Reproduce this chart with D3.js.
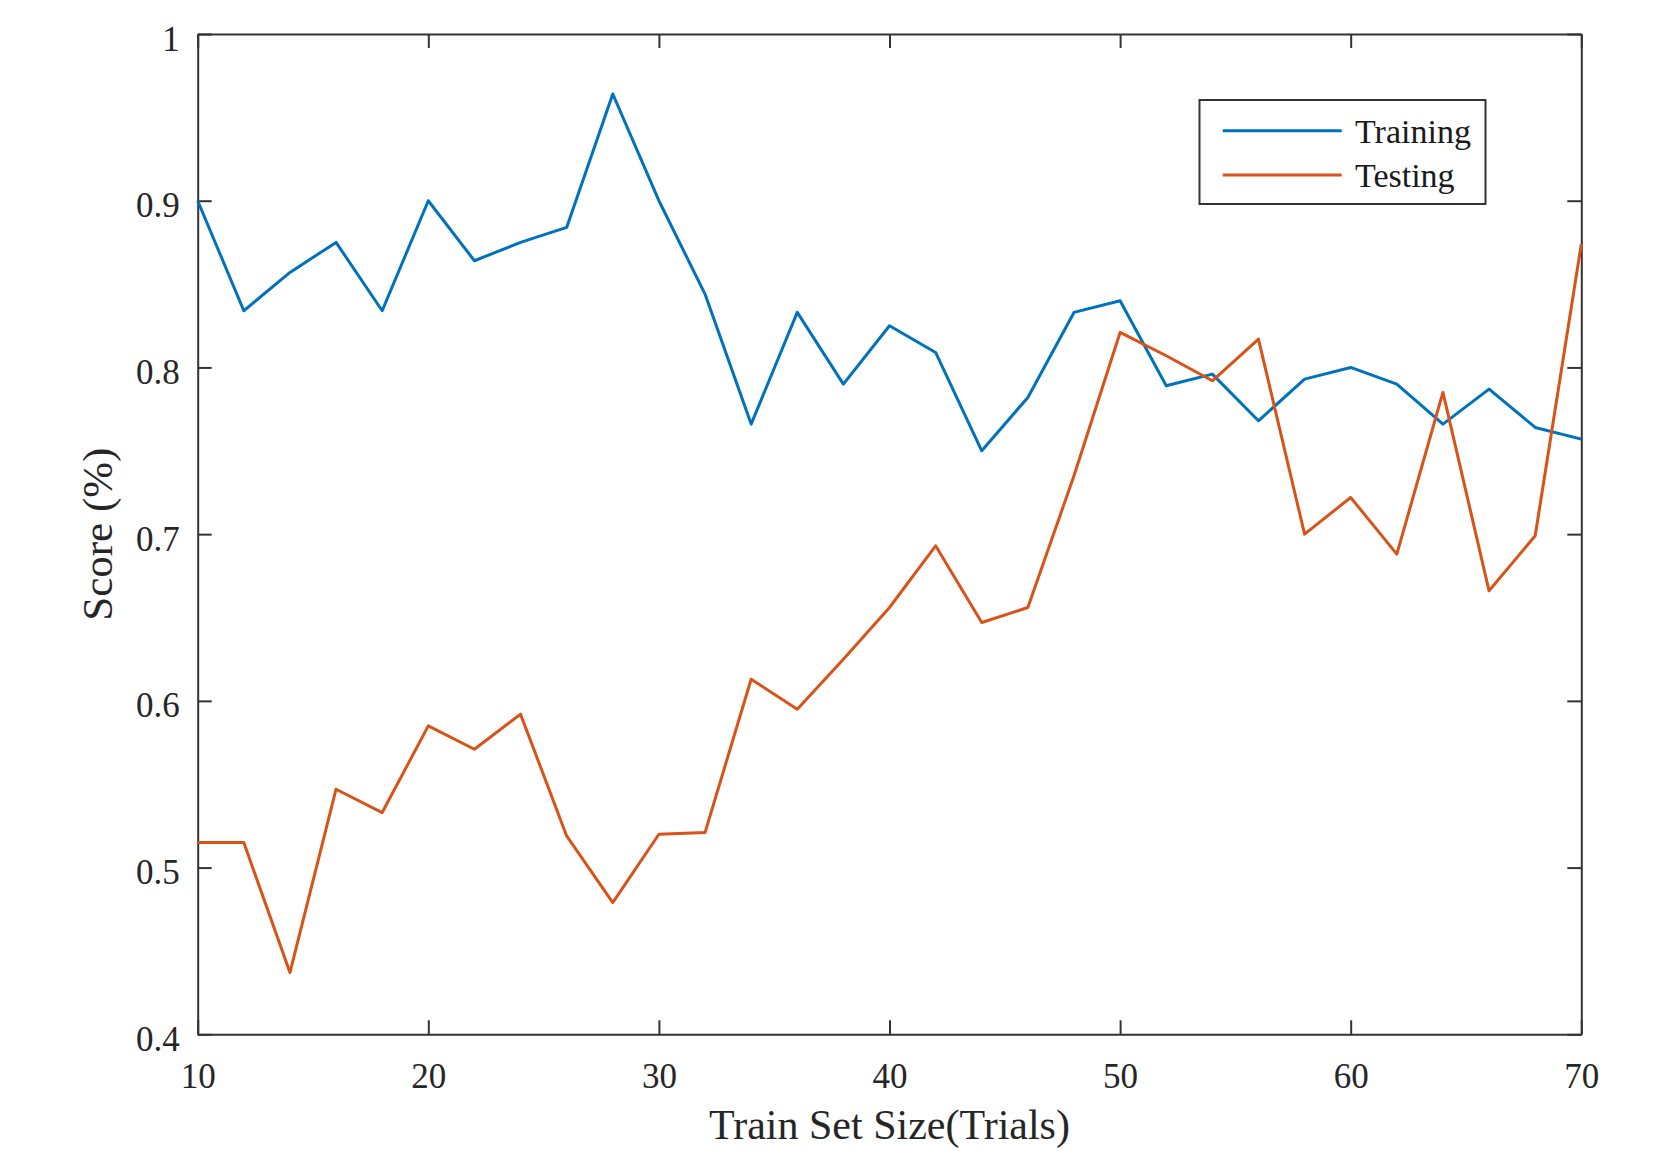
<!DOCTYPE html>
<html>
<head>
<meta charset="utf-8">
<script src="https://cdn.jsdelivr.net/npm/d3@7/dist/d3.min.js"></script>
<style>
  html, body { margin: 0; padding: 0; background: #fff; }
  svg { display: block; font-family: "Liberation Serif", "Times New Roman", serif; }
</style>
</head>
<body>
<svg id="chart" width="1655" height="1155"></svg>
<script>
// Learning-curve data: score vs. training-set size
const trainSizes = [10, 12, 14, 16, 18, 20, 22, 24, 26, 28, 30, 32, 34, 36, 38, 40,
                    42, 44, 46, 48, 50, 52, 54, 56, 58, 60, 62, 64, 66, 68, 70];
const trainingScore = [0.900, 0.834, 0.857, 0.875, 0.834, 0.900, 0.864, 0.875, 0.884, 0.964,
                       0.900, 0.844, 0.766, 0.833, 0.790, 0.825, 0.809, 0.750, 0.782, 0.833,
                       0.840, 0.789, 0.796, 0.768, 0.793, 0.800, 0.790, 0.766, 0.787, 0.764, 0.757];
const testingScore = [0.515, 0.515, 0.437, 0.547, 0.533, 0.585, 0.571, 0.592, 0.519, 0.479,
                      0.520, 0.521, 0.613, 0.595, 0.625, 0.656, 0.693, 0.647, 0.656, 0.735,
                      0.821, 0.807, 0.792, 0.817, 0.700, 0.722, 0.688, 0.785, 0.666, 0.699, 0.874];
const xTicks = [10, 20, 30, 40, 50, 60, 70];
const yTicks = [0.4, 0.5, 0.6, 0.7, 0.8, 0.9, 1];
const seriesNames = ["Training", "Testing"];
const seriesColors = ["#0072BD", "#D95319"];

const svg = d3.select("#chart");
const margin = { left: 197.7, top: 34, right: 1655 - 1581.3, bottom: 1155 - 1034.3 };
const W = 1655 - margin.left - margin.right;
const H = 1155 - margin.top - margin.bottom;

const x = d3.scaleLinear().domain([10, 70]).range([0, W]);
const y = d3.scaleLinear().domain([0.4, 1]).range([H, 0]);

const g = svg.append("g").attr("transform", `translate(${margin.left},${margin.top})`);

const axisColor = "#333333";
const tickLen = 14;
const fmtY = d => (d === 1 ? "1" : d3.format(".1f")(d));

function styleAxis(sel) {
  sel.select(".domain").attr("stroke", axisColor).attr("stroke-width", 2);
  sel.selectAll(".tick line").attr("stroke", axisColor).attr("stroke-width", 2);
  sel.selectAll(".tick text")
    .attr("fill", "#262626")
    .style("font-family", "'Liberation Serif', 'Times New Roman', serif")
    .style("font-size", "35px");
}

// Bottom axis with labels, ticks pointing inward
g.append("g")
  .attr("transform", `translate(0,${H})`)
  .call(d3.axisBottom(x).tickValues(xTicks).tickFormat(d3.format("d"))
        .tickSizeInner(-tickLen).tickSizeOuter(0).tickPadding(29))
  .call(styleAxis);

// Top axis, ticks only
g.append("g")
  .call(d3.axisTop(x).tickValues(xTicks).tickFormat("")
        .tickSizeInner(-tickLen).tickSizeOuter(0))
  .call(styleAxis);

// Left axis with labels
const yAxisG = g.append("g")
  .call(d3.axisLeft(y).tickValues(yTicks).tickFormat(fmtY)
        .tickSizeInner(-tickLen).tickSizeOuter(0).tickPadding(18))
  .call(styleAxis);
yAxisG.selectAll(".tick text").attr("dy", "0.46em");

// Right axis, ticks only
g.append("g")
  .attr("transform", `translate(${W},0)`)
  .call(d3.axisRight(y).tickValues(yTicks).tickFormat("")
        .tickSizeInner(-tickLen).tickSizeOuter(0))
  .call(styleAxis);

// Series lines
const line = d3.line().x(d => x(d[0])).y(d => y(d[1]));
[trainingScore, testingScore].forEach((vals, i) => {
  g.append("path")
    .datum(trainSizes.map((s, j) => [s, vals[j]]))
    .attr("fill", "none")
    .attr("stroke", seriesColors[i])
    .attr("stroke-width", 3)
    .attr("stroke-linejoin", "round")
    .attr("d", line);
});

// Axis titles
svg.append("text")
  .attr("x", margin.left + W / 2)
  .attr("y", 1139)
  .attr("text-anchor", "middle")
  .attr("fill", "#262626")
  .style("font-size", "42px")
  .text("Train Set Size(Trials)");

svg.append("text")
  .attr("transform", `translate(112,${margin.top + H / 2}) rotate(-90)`)
  .attr("text-anchor", "middle")
  .attr("fill", "#262626")
  .style("font-size", "43px")
  .text("Score (%)");

// Legend
const legend = svg.append("g");
legend.append("rect")
  .attr("x", 1199.5).attr("y", 100)
  .attr("width", 286).attr("height", 104)
  .attr("fill", "#fff")
  .attr("stroke", axisColor).attr("stroke-width", 2);
const legendRowsY = [130.7, 175];
seriesNames.forEach((name, i) => {
  legend.append("line")
    .attr("x1", 1222.7).attr("x2", 1341.7)
    .attr("y1", legendRowsY[i]).attr("y2", legendRowsY[i])
    .attr("stroke", seriesColors[i]).attr("stroke-width", 3);
  legend.append("text")
    .attr("x", 1355).attr("y", legendRowsY[i] + 12)
    .attr("fill", "#1a1a1a")
    .style("font-size", "34px")
    .text(name);
});
</script>
</body>
</html>
